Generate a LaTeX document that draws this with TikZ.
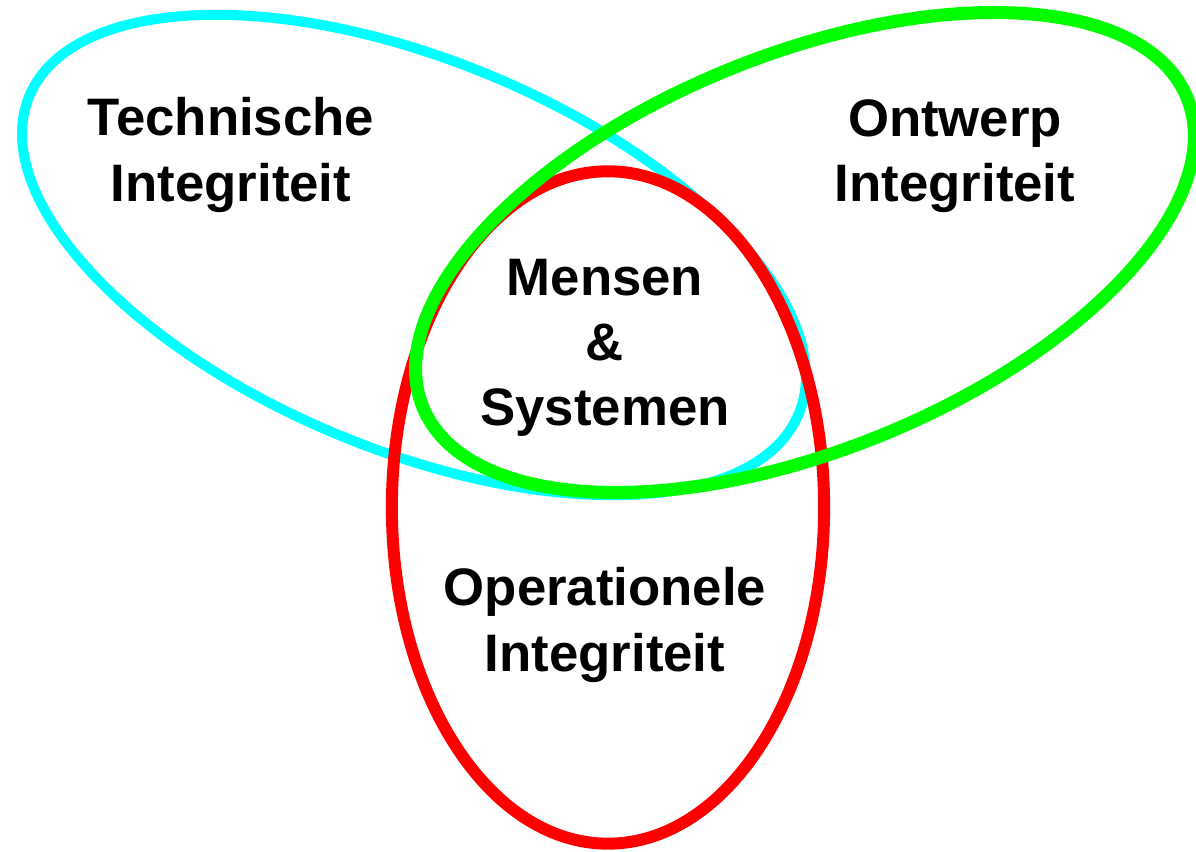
\documentclass[tikz,border=0pt]{standalone}
\usepackage{fontspec}
\setmainfont{Liberation Sans}
\usetikzlibrary{shapes.geometric}
\begin{document}
\begin{tikzpicture}[x=0.01cm,y=0.01cm,
  ring/.style={ellipse, inner sep=0pt},
  lbl/.style={align=center, text=black, font=\fontsize{15}{18.5}\selectfont\bfseries}]
\useasboundingbox (0,0) rectangle (1196,852);
%Define all ring colors here.

\definecolor{tidraw}{RGB}{0,255,255}
\node(ti) at (414,597) [ring, draw=tidraw, line width=2.85pt, minimum width=8.32cm, minimum height=3.9cm, rotate=-22.4] {};

\definecolor{opdraw}{RGB}{255,0,0}
\node(op) at (608,344.5) [ring, draw=opdraw, line width=3.4pt, minimum width=4.32cm, minimum height=6.72cm] {};

\definecolor{ondraw}{RGB}{0,255,0}
\node(on) at (805,599.5) [ring, draw=ondraw, line width=3.7pt, minimum width=8.24cm, minimum height=3.96cm, rotate=22] {};

\node(titext) at (231,697) [lbl] {Technische\\Integriteit};
\node(ontext) at (955,696) [lbl] {Ontwerp\\Integriteit};
\node(mstext) at (605,504) [lbl] {Mensen\\\&\\Systemen};
\node(optext) at (605,227) [lbl] {Operationele\\Integriteit};
\end{tikzpicture}
\end{document}
